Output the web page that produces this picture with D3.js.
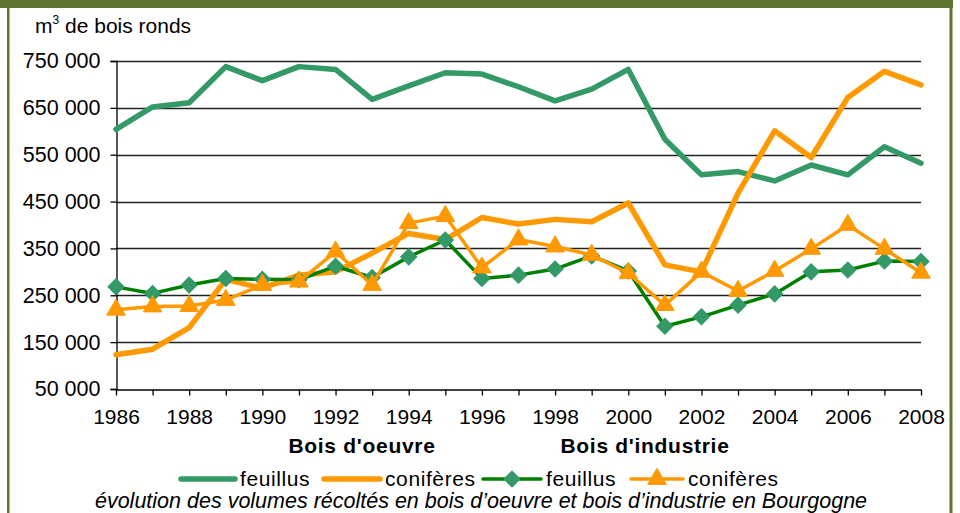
<!DOCTYPE html>
<html>
<head>
<meta charset="utf-8">
<script src="https://cdn.jsdelivr.net/npm/d3@7"></script>
<style>
  body { margin: 0; background: #fff; }
  text { font-family: "Liberation Sans", Arial, sans-serif; fill: #000; }
</style>
</head>
<body>
<svg id="chart" width="960" height="513"></svg>
<script>
let years = d3.range(1986, 2009);
let yTicks = [50000, 150000, 250000, 350000, 450000, 550000, 650000, 750000];
let xTickLabels = [1986, 1988, 1990, 1992, 1994, 1996, 1998, 2000, 2002, 2004, 2006, 2008];

// bois d'oeuvre
let oeuvreFeuillus = [604000, 652000, 661000, 738000, 708000, 738000, 732000, 668000, 697000, 725000, 722000, 695000,
  665000, 690000, 732000, 583000, 507000, 514000, 494000, 528000, 507000, 567000, 532000];
let oeuvreConiferes = [123000, 135000, 181000, 284000, 265000, 293000, 300000, 340000, 382000, 369000, 416000, 402000,
  412000, 407000, 447000, 315000, 300000, 468000, 601000, 544000, 672000, 728000, 699000];
// bois d'industrie
let industrieFeuillus = [268000, 254000, 272000, 286000, 284000, 283000, 312000, 288000, 332000, 368000, 286000, 293000,
  306000, 334000, 302000, 184000, 204000, 229000, 253000, 300000, 304000, 323000, 322000];
let industrieConiferes = [219000, 226000, 227000, 240000, 272000, 279000, 343000, 272000, 404000, 419000, 309000, 369000,
  354000, 336000, 297000, 229000, 300000, 259000, 302000, 349000, 400000, 349000, 298000];

let seaGreen = '#339966', green = '#008000', orange = '#ff9900', olive = '#5f7333';

let svg = d3.select('#chart');

// cadre
svg.append('rect').attr('x', 0).attr('y', 0).attr('width', 953).attr('height', 8).attr('fill', olive);
svg.append('rect').attr('x', 7).attr('y', 0).attr('width', 2.5).attr('height', 513).attr('fill', olive);
svg.append('rect').attr('x', 949.5).attr('y', 0).attr('width', 3).attr('height', 513).attr('fill', olive);

let x = d3.scaleLinear().domain([1986, 2008]).range([116, 921]);
let y = d3.scaleLinear().domain([50000, 750000]).range([389, 61]);

let fmt = d3.formatLocale({decimal: ',', thousands: ' ', grouping: [3], currency: ['', ' €']}).format(',d');

// grille
svg.append('g').selectAll('line').data(yTicks.slice(1)).join('line')
  .attr('x1', 116).attr('x2', 921)
  .attr('y1', d => Math.round(y(d)) + 0.5).attr('y2', d => Math.round(y(d)) + 0.5)
  .attr('stroke', '#222').attr('stroke-width', 1.3);

let yAxis = svg.append('g').attr('transform', 'translate(116.5,0)')
  .call(d3.axisLeft(y).tickValues(yTicks).tickFormat(fmt).tickSize(6).tickPadding(10));
yAxis.select('.domain').attr('stroke', '#000').attr('stroke-width', 1.3);
yAxis.selectAll('.tick line').attr('stroke', '#000').attr('stroke-width', 1.3);
yAxis.selectAll('text').attr('font-size', 21.5).attr('font-family', '"Liberation Sans", Arial, sans-serif').attr('fill', '#000');

let xAxis = svg.append('g').attr('transform', 'translate(0,389.5)')
  .call(d3.axisBottom(x).tickValues(years).tickFormat(d => xTickLabels.includes(d) ? d : '').tickSize(6).tickSizeOuter(0).tickPadding(14));
xAxis.select('.domain').attr('stroke', '#000').attr('stroke-width', 1.3);
xAxis.selectAll('.tick line').attr('stroke', '#000').attr('stroke-width', 1.3);
xAxis.selectAll('text').attr('font-size', 21).attr('font-family', '"Liberation Sans", Arial, sans-serif').attr('fill', '#000');

let line = d3.line().x((d, i) => x(years[i])).y(d => y(d));

let drawLine = function(values, color, width) {
  svg.append('path').datum(values).attr('d', line)
    .attr('fill', 'none').attr('stroke', color).attr('stroke-width', width)
    .attr('stroke-linejoin', 'round').attr('stroke-linecap', 'round');
}

let diamond = d3.symbol().type(d3.symbolSquare).size(130);
let triangle = d3.symbol().type(d3.symbolTriangle).size(150);

let drawMarkers = function(values, sym, color, rot) {
  svg.append('g').selectAll('path').data(values).join('path')
    .attr('d', sym)
    .attr('transform', (d, i) => 'translate(' + x(years[i]) + ',' + y(d) + ') rotate(' + rot + ')')
    .attr('fill', color).attr('stroke', color).attr('stroke-width', 1);
}

drawLine(oeuvreFeuillus, seaGreen, 5.5);
drawLine(oeuvreConiferes, orange, 5.5);
drawLine(industrieFeuillus, green, 3.5);
drawMarkers(industrieFeuillus, diamond, seaGreen, 45);
drawLine(industrieConiferes, orange, 3.5);
drawMarkers(industrieConiferes, triangle, orange, 0);

// titres
svg.append('text').attr('x', 35).attr('y', 33).attr('font-size', 21)
  .html('m<tspan font-size="12" dy="-9">3</tspan><tspan dy="9"> de bois ronds</tspan>');

svg.append('text').attr('x', 362).attr('y', 453).attr('text-anchor', 'middle')
  .attr('font-size', 21).attr('font-weight', 'bold').attr('letter-spacing', 0.7).text("Bois d'oeuvre");
svg.append('text').attr('x', 645).attr('y', 453).attr('text-anchor', 'middle')
  .attr('font-size', 21).attr('font-weight', 'bold').attr('letter-spacing', 0.7).text("Bois d'industrie");

// légende
let legend = [
  {label: 'feuillus', color: seaGreen, x1: 181, x2: 235, w: 5.5, sym: null},
  {label: 'conifères', color: orange, x1: 324, x2: 380, w: 5.5, sym: null},
  {label: 'feuillus', color: green, x1: 483, x2: 541, w: 3.5, sym: 'diamond'},
  {label: 'conifères', color: orange, x1: 631, x2: 683, w: 3.5, sym: 'triangle'}
];
legend.forEach(function(l) {
  let g = svg.append('g');
  g.append('line').attr('x1', l.x1).attr('x2', l.x2).attr('y1', 479).attr('y2', 479)
    .attr('stroke', l.color).attr('stroke-width', l.w).attr('stroke-linecap', 'round');
  if (l.sym == 'diamond') {
    g.append('path').attr('d', diamond).attr('transform', 'translate(' + (l.x1 + l.x2) / 2 + ',479) rotate(45)')
      .attr('fill', seaGreen).attr('stroke', seaGreen);
  } else if (l.sym == 'triangle') {
    g.append('path').attr('d', triangle).attr('transform', 'translate(' + (l.x1 + l.x2) / 2 + ',479)')
      .attr('fill', orange).attr('stroke', orange);
  }
  g.append('text').attr('x', l.x2 + 5).attr('y', 486).attr('font-size', 21).attr('letter-spacing', 0.6).text(l.label);
});

svg.append('text').attr('x', 481).attr('y', 508).attr('text-anchor', 'middle')
  .attr('font-size', 21.5).attr('font-style', 'italic').attr('fill', '#333')
  .text('évolution des volumes récoltés en bois d’oeuvre et bois d’industrie en Bourgogne');
</script>
</body>
</html>
